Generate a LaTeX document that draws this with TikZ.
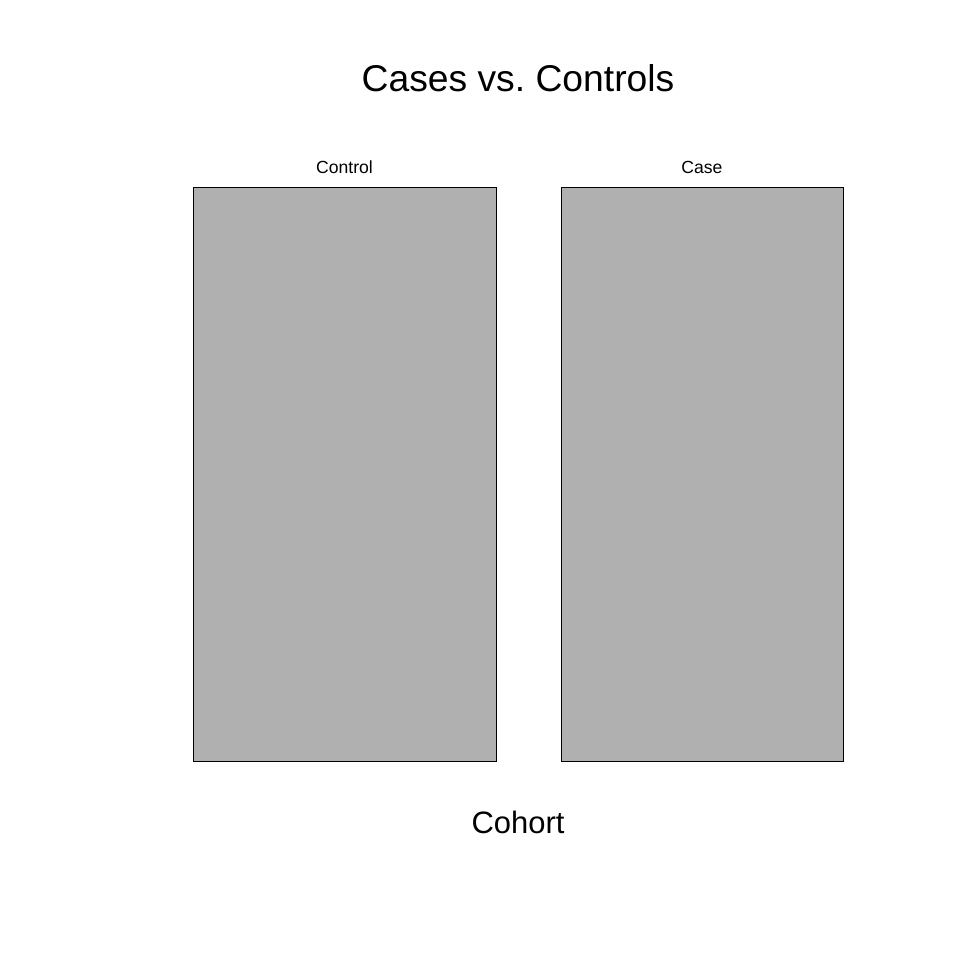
\documentclass[tikz,border=0pt]{standalone}
\usepackage{fontspec}
\setmainfont{Liberation Sans}
\frenchspacing
\usetikzlibrary{positioning}
\definecolor{bargray}{RGB}{176,176,176}
\begin{document}
\begin{tikzpicture}[
        x                       = 0.025cm,
        y                       = -0.025cm,
        bar/.style              = {draw, black, fill=bargray, line width=1pt, inner sep=0pt, anchor=north west},
        barlabel/.style         = {font=\fontsize{12.5}{14}\selectfont, anchor=base},
        %titles
        plottitle/.style        = {font=\fontsize{26.5}{30}\selectfont, anchor=base},
        axistitle/.style        = {font=\fontsize{22}{26}\selectfont, anchor=base},
      ]
        \useasboundingbox (0,0) rectangle (960,960);
        \node[plottitle] (title) at (518,91) {Cases vs. Controls};
        % bars
        \node[bar, minimum width=303*0.025cm, minimum height=574*0.025cm] (control) at (193,187) {};
        \node[bar, minimum width=282*0.025cm, minimum height=574*0.025cm] (case) at (561,187) {};
        \node[barlabel] (controllabel) at (344.5,173) {Control};
        \node[barlabel] (caselabel) at (702,173) {Case};
        \node[axistitle] (cohort) at (518,833) {Cohort};
    \end{tikzpicture}
\end{document}
